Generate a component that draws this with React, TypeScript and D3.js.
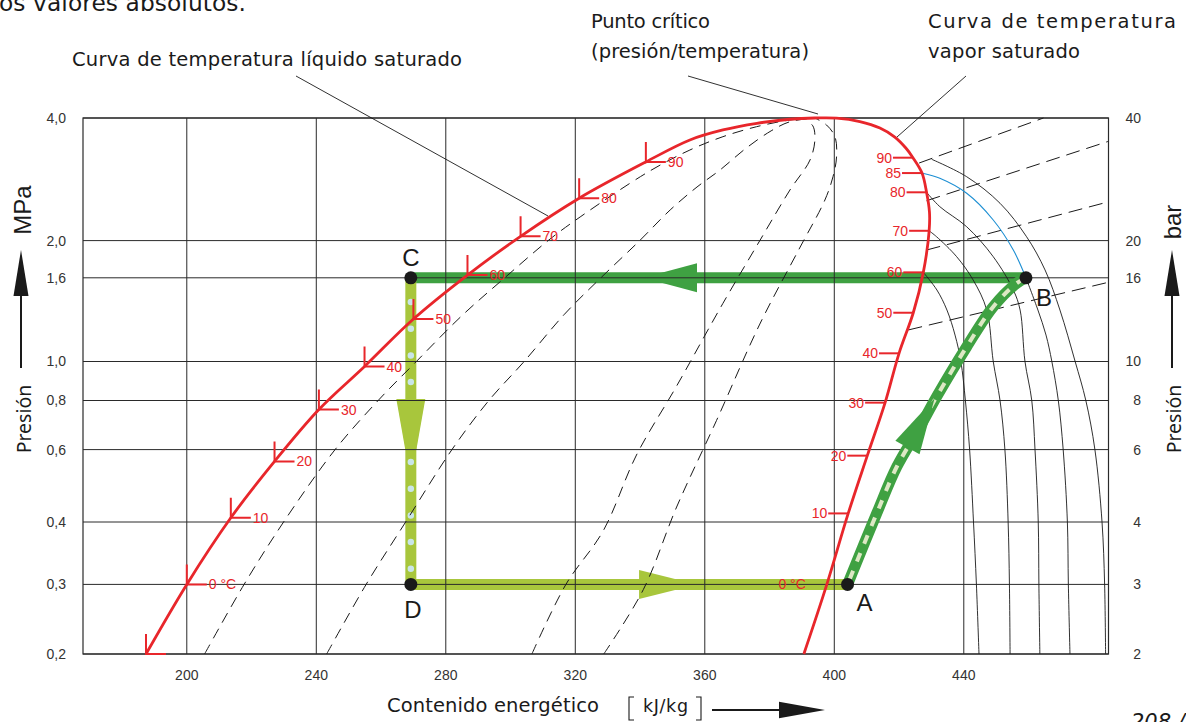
import React from "react";
import * as d3 from "d3";

// ---------------- axis ticks ----------------
const pressureTicks = [0.2, 0.3, 0.4, 0.6, 0.8, 1.0, 1.6, 2.0, 4.0]; // MPa
const mpaLabels = ["0,2", "0,3", "0,4", "0,6", "0,8", "1,0", "1,6", "2,0", "4,0"];
const barLabels = ["2", "3", "4", "6", "8", "10", "16", "20", "40"];
const enthalpyTicks = [200, 240, 280, 320, 360, 400, 440]; // kJ/kg
const enthalpyDomain = [167.94, 484.7];

// ---------------- saturation dome (h kJ/kg, p MPa) ----------------
// saturated liquid: bottom end, 0,10,...,90 °C, then up to the critical point
const liquidH = [187.4, 200.0, 213.6, 227.1, 240.8, 254.9, 270.0, 286.7, 303.1, 321.2, 341.8, 355.4, 365.6, 376.1, 386.3, 394.0];
const liquidP = [0.2, 0.3, 0.4096, 0.5617, 0.759, 0.972, 1.269, 1.626, 2.049, 2.542, 3.121, 3.533, 3.738, 3.882, 3.972, 4.0];
const liquidMarks = ["", "0 °C", "10", "20", "30", "40", "50", "60", "70", "80", "90"]; // first 11 liquid points

// saturated vapour: critical point downwards
const vapourH = [394.0, 400.7, 407.9, 414.1, 418.7, 422.1, 424.3, 427.1, 428.5, 429.4, 429.3, 427.5, 424.4, 420.0, 415.7, 410.2, 404.3, 397.7, 390.6];
const vapourP = [4.0, 3.997, 3.921, 3.78, 3.592, 3.376, 3.196, 2.93, 2.628, 2.35, 2.114, 1.653, 1.315, 1.047, 0.79, 0.58, 0.4197, 0.3, 0.2];
const vapourMarks = ["90", "85", "80", "70", "60", "50", "40", "30", "20", "10", "0 °C"];
const vapourMarkH = [424.3, 427.1, 428.5, 429.3, 427.5, 424.4, 420.0, 415.7, 410.2, 404.3, 397.7];
const vapourMarkP = [3.196, 2.93, 2.628, 2.114, 1.653, 1.315, 1.047, 0.79, 0.58, 0.4197, 0.3];

// ---------------- vapour-quality lines (dashed, two-phase region) ----------------
const q1H = [205.5, 217.7, 229.9, 245.8, 259.1, 270.9, 285.0, 298.2, 311.6, 321.5, 342.5, 355.4, 365.6, 376.0, 386.3, 394.0];
const q1P = [0.2, 0.3, 0.4, 0.6, 0.8, 1.0, 1.294, 1.6, 2.0, 2.286, 2.948, 3.338, 3.599, 3.808, 3.955, 4.0];
const q2H = [243.2, 255.4, 267.6, 281.9, 293.3, 304.2, 316.5, 327.9, 339.9, 349.3, 357.6, 364.7, 372.5, 380.5, 386.3, 394.0];
const q2P = [0.2, 0.3, 0.4, 0.6, 0.8, 1.0, 1.3, 1.6, 2.0, 2.378, 2.708, 2.981, 3.36, 3.72, 3.917, 4.0];
const q3H = [306.6, 317.1, 328.6, 338.9, 351.3, 365.6, 377.0, 386.3, 392.5, 394.0, 393.4, 391.3];
const q3P = [0.2, 0.3, 0.3838, 0.582, 0.869, 1.386, 2.0, 2.662, 3.154, 3.533, 3.823, 3.945];
const q4H = [328.8, 341.0, 351.3, 363.6, 377.0, 389.3, 397.1, 399.6, 400.7, 400.2, 397.6, 394.0];
const q4P = [0.2, 0.2909, 0.435, 0.711, 1.234, 1.913, 2.516, 2.87, 3.214, 3.599, 3.845, 4.0];

// ---------------- isotherms in the superheated region ----------------
const t60H = [427.5, 431.7, 434.8, 437.3, 439.1, 440.5, 441.8, 443.0, 443.9, 444.7];
const t60P = [1.653, 1.494, 1.335, 1.16, 1.0, 0.8, 0.6, 0.4, 0.3, 0.2];
const t70H = [429.3, 431.6, 437.8, 442.9, 447.1, 449.1, 451.2, 452.7, 453.7, 454.1, 454.3];
const t70P = [2.114, 2.044, 1.816, 1.58, 1.335, 1.0, 0.8, 0.6, 0.4, 0.3, 0.2];
const t80H = [428.5, 432.6, 440.9, 449.1, 455.3, 457.4, 458.9, 461.0, 462.0, 463.0, 463.2, 463.5];
const t80P = [2.628, 2.423, 2.163, 1.816, 1.494, 1.335, 1.0, 0.8, 0.6, 0.4, 0.3, 0.2];
const t85UpperH = [427.3, 432.6, 440.9, 449.1, 455.3, 459.2];
const t85UpperP = [2.926, 2.844, 2.613, 2.247, 1.89, 1.6];
const t85LowerH = [459.2, 462.9, 465.4, 467.2, 469.2, 470.7, 472.0, 472.3, 472.8];
const t85LowerP = [1.6, 1.335, 1.16, 1.0, 0.8, 0.6, 0.4, 0.3, 0.2];
const t90H = [430.1, 440.9, 451.2, 459.4, 465.1, 469.7, 474.4, 477.7, 480.5, 482.7, 483.5, 483.8];
const t90P = [3.167, 2.87, 2.47, 2.044, 1.677, 1.335, 1.0, 0.8, 0.6, 0.4, 0.3, 0.2];

// ---------------- dashed lines in the vapour region (start, end) ----------------
const vLineH = [[426.2, 464.6], [428.5, 484.5], [428.5, 484.5], [422.9, 484.5]];
const vLineP = [[3.101, 4.0], [2.506, 3.502], [1.89, 2.488], [1.194, 1.559]];

// ---------------- refrigeration cycle ----------------
const cycleNames = ["A", "B", "C", "D"];
const cycleH = [404.1, 459.2, 269.2, 269.2];
const cycleP = [0.3, 1.6, 1.6, 0.3];
const compressionH = [404.1, 413.1, 419.3, 426.5, 431.6, 440.9, 449.1, 456.3, 459.2];
const compressionP = [0.3, 0.4197, 0.545, 0.686, 0.8175, 1.0867, 1.3605, 1.551, 1.6];
// arrow heads: [tip, base] in (h, p)
const condArrow = [[340.9, 1.6], [357.6, 1.6]];
const evapArrow = [[357.6, 0.3], [339.7, 0.3]];
const expArrow = [[269.2, 0.599], [269.2, 0.807]];
const compArrow = [[431.0, 0.81], [422.6, 0.6074]];

const RED = "#e8262b";
const GRID = "#2a2a2a";
const DARKGREEN = "#3fa142";
const LIGHTGREEN = "#a8c63c";
const ANN = "'DejaVu Sans', Verdana, sans-serif";
const AX = "'Liberation Sans', Arial, sans-serif";

type P2 = [number, number];

export default function App() {
  const x = d3.scaleLinear().domain(enthalpyDomain).range([83, 1108.5]);
  const y = d3.scaleLog().domain(pressureTicks).range([654, 584.4, 522, 449.6, 400.5, 361.5, 277.8, 240.6, 118]);
  const pts = (hs: number[], ps: number[]): P2[] => hs.map((h, i) => [h, ps[i]] as P2);
  const smooth = d3.line<P2>().x((d) => x(d[0])).y((d) => y(d[1])).curve(d3.curveCatmullRom.alpha(0.5));
  const straight = d3.line<P2>().x((d) => x(d[0])).y((d) => y(d[1]));

  const px = (d: number[]): P2 => [x(d[0]), y(d[1])];
  const tri = (tipD: number[], baseD: number[], half: number, tipHalf = 0) => {
    const t = px(tipD), b = px(baseD);
    const dx = t[0] - b[0], dy = t[1] - b[1];
    const L = Math.hypot(dx, dy);
    const nx = -dy / L, ny = dx / L;
    return `M${t[0] + nx * tipHalf},${t[1] + ny * tipHalf}L${b[0] + nx * half},${b[1] + ny * half}L${b[0] - nx * half},${b[1] - ny * half}L${t[0] - nx * tipHalf},${t[1] - ny * tipHalf}Z`;
  };

  const [hA, hB, hC, hD] = cycleH;
  const [pA, pB, pC, pD] = cycleP;
  const x0 = 83, x1 = 1108.5, yTop = 118, yBot = 654;

  const dome = pts(liquidH, liquidP).concat(pts(vapourH, vapourP).slice(1));
  const qLines = [pts(q1H, q1P), pts(q2H, q2P), pts(q3H, q3P), pts(q4H, q4P)];
  const isotherms = [pts(t60H, t60P), pts(t70H, t70P), pts(t80H, t80P), pts(t85LowerH, t85LowerP), pts(t90H, t90P)];

  const cdLen = y(pD) - y(pC);
  const ann = { fontFamily: ANN, fill: "#1a1a1a", lengthAdjust: "spacing" } as const;

  return (
    <svg width={1186} height={722} style={{ position: "absolute", left: 0, top: 0, background: "#fff" }}>
      <rect x={0} y={0} width={1186} height={722} fill="#fff" />
      {/* top cut text */}
      <text x={-1} y={11} {...ann} fontSize={23.3} textLength={247}>os valores absolutos.</text>

      {/* cycle bands (under grid) */}
      <line x1={x(hC)} x2={x(hB)} y1={y(pC)} y2={y(pB)} stroke={DARKGREEN} strokeWidth={11} />
      <line x1={x(hD)} x2={x(hA)} y1={y(pD)} y2={y(pA)} stroke={LIGHTGREEN} strokeWidth={11} />
      <line x1={x(hC)} x2={x(hD)} y1={y(pC)} y2={y(pD)} stroke={LIGHTGREEN} strokeWidth={11} />
      <line x1={x(hC)} x2={x(hD)} y1={y(pC)} y2={y(pD)} stroke="#c9e5e8" strokeWidth={6.5} strokeLinecap="round"
        strokeDasharray={`0 ${cdLen / 11.5}`} strokeDashoffset={cdLen / 11.5 - 24.3} />
      <path d={tri(condArrow[0], condArrow[1], 14.5)} fill={DARKGREEN} />
      <path d={tri(evapArrow[0], evapArrow[1], 14.5)} fill={LIGHTGREEN} />
      <path d={tri(expArrow[0], expArrow[1], 14.5, 5.5)} fill={LIGHTGREEN} />

      {/* grid */}
      {enthalpyTicks.map((h) => (
        <line key={"v" + h} x1={x(h)} x2={x(h)} y1={yTop} y2={yBot} stroke={GRID} strokeWidth={1} />
      ))}
      {pressureTicks.map((p) => (
        <line key={"h" + p} x1={x0} x2={x1} y1={y(p)} y2={y(p)} stroke={GRID} strokeWidth={1} />
      ))}
      <rect x={x0} y={yTop} width={x1 - x0} height={yBot - yTop} fill="none" stroke={GRID} strokeWidth={1.2} />

      {/* tick labels */}
      {pressureTicks.map((p, i) => (
        <text key={"lm" + p} x={66} y={y(p)} dy="0.35em" textAnchor="end" fontFamily={AX} fontSize={14} fill="#333">{mpaLabels[i]}</text>
      ))}
      {pressureTicks.map((p, i) => (
        <text key={"lb" + p} x={1141} y={y(p)} dy="0.35em" textAnchor="end" fontFamily={AX} fontSize={14} fill="#333">{barLabels[i]}</text>
      ))}
      {enthalpyTicks.map((h) => (
        <text key={"lx" + h} x={x(h)} y={680} textAnchor="middle" fontFamily={AX} fontSize={14} fill="#333">{h}</text>
      ))}

      {/* quality lines */}
      {qLines.map((q, i) => (
        <path key={"q" + i} d={smooth(q) || ""} fill="none" stroke="#1a1a1a" strokeWidth={1} strokeDasharray="11 7" />
      ))}
      {/* vapour-region dashed lines */}
      {vLineH.map((hs, i) => (
        <path key={"vl" + i} d={straight(pts(hs, vLineP[i])) || ""} fill="none" stroke="#1a1a1a" strokeWidth={1} strokeDasharray="14 7" />
      ))}
      {/* isotherms */}
      {isotherms.map((t, i) => (
        <path key={"t" + i} d={smooth(t) || ""} fill="none" stroke="#1a1a1a" strokeWidth={0.9} />
      ))}
      <path d={smooth(pts(t85UpperH, t85UpperP)) || ""} fill="none" stroke="#1d8fd3" strokeWidth={1.1} />

      {/* compression */}
      <path d={smooth(pts(compressionH, compressionP)) || ""} fill="none" stroke={DARKGREEN} strokeWidth={11} />
      <path d={smooth(pts(compressionH, compressionP)) || ""} fill="none" stroke="#dde8c4" strokeWidth={4} strokeDasharray="9 10" strokeDashoffset={-6} />
      <path d={tri(compArrow[0], compArrow[1], 13.8)} fill={DARKGREEN} />

      {/* saturation dome */}
      <path d={smooth(dome) || ""} fill="none" stroke={RED} strokeWidth={2.8} />
      {liquidMarks.map((m, i) => {
        const cx = x(liquidH[i]), cy = y(liquidP[i]);
        return (
          <g key={"lk" + i}>
            <path d={`M${cx},${cy - 20}L${cx},${cy}L${cx + 20},${cy}`} fill="none" stroke={RED} strokeWidth={2} />
            {m && <text x={cx + 22} y={cy} dy="0.36em" fontFamily={AX} fontSize={14} fill={RED}>{m}</text>}
          </g>
        );
      })}
      {vapourMarks.map((m, i) => {
        const cx = x(vapourMarkH[i]), cy = y(vapourMarkP[i]);
        return (
          <g key={"vk" + i}>
            {i < vapourMarks.length - 1 && <line x1={cx - 20} x2={cx} y1={cy} y2={cy} stroke={RED} strokeWidth={2} />}
            <text x={cx - 21} y={cy} dy="0.36em" textAnchor="end" fontFamily={AX} fontSize={14} fill={RED}>{m}</text>
          </g>
        );
      })}

      {/* cycle points */}
      {cycleNames.map((n, i) => (
        <circle key={"c" + n} cx={x(cycleH[i])} cy={y(cycleP[i])} r={6.5} fill="#1a1a1a" />
      ))}
      <text x={x(hC)} y={y(pC) - 12} textAnchor="middle" fontFamily={AX} fontSize={24} fill="#1a1a1a">C</text>
      <text x={x(hD) + 2} y={y(pD) + 34} textAnchor="middle" fontFamily={AX} fontSize={24} fill="#1a1a1a">D</text>
      <text x={x(hA) + 17} y={y(pA) + 27} textAnchor="middle" fontFamily={AX} fontSize={24} fill="#1a1a1a">A</text>
      <text x={x(hB) + 18} y={y(pB) + 28} textAnchor="middle" fontFamily={AX} fontSize={24} fill="#1a1a1a">B</text>

      {/* annotations */}
      <text x={72} y={66} {...ann} fontSize={19.5} textLength={390}>Curva de temperatura líquido saturado</text>
      <line x1={296} y1={76} x2={548} y2={216} stroke="#1a1a1a" strokeWidth={0.9} />
      <text x={591} y={28} {...ann} fontSize={19.5} textLength={119}>Punto crítico</text>
      <text x={591} y={58} {...ann} fontSize={19.5} textLength={218}>(presión/temperatura)</text>
      <line x1={688} y1={76} x2={818} y2={114} stroke="#1a1a1a" strokeWidth={0.9} />
      <text x={928} y={28} {...ann} fontSize={19.5} textLength={248}>Curva de temperatura</text>
      <text x={928} y={58} {...ann} fontSize={19.5} textLength={152}>vapor saturado</text>
      <line x1={966} y1={76} x2={897} y2={137} stroke="#1a1a1a" strokeWidth={0.9} />

      {/* left axis title */}
      <text transform="translate(31,210) rotate(-90)" textAnchor="middle" fontFamily={AX} fontSize={24} fill="#1a1a1a">MPa</text>
      <text transform="translate(31,419) rotate(-90)" textAnchor="middle" fontFamily="'Noto Sans', sans-serif" fontSize={19.5} fill="#1a1a1a">Presión</text>
      <line x1={21} x2={21} y1={368} y2={292} stroke="#1a1a1a" strokeWidth={2} />
      <path d="M21,250L28.5,296L13.5,296Z" fill="#1a1a1a" />
      {/* right axis title */}
      <text transform="translate(1181,222) rotate(-90)" textAnchor="middle" fontFamily={AX} fontSize={24} fill="#1a1a1a">bar</text>
      <text transform="translate(1181,419) rotate(-90)" textAnchor="middle" fontFamily="'Noto Sans', sans-serif" fontSize={19.5} fill="#1a1a1a">Presión</text>
      <line x1={1172} x2={1172} y1={368} y2={292} stroke="#1a1a1a" strokeWidth={2} />
      <path d="M1172,250L1179.5,296L1164.5,296Z" fill="#1a1a1a" />

      {/* bottom axis title */}
      <text x={387} y={712} {...ann} fontSize={19.5} textLength={212}>Contenido energético</text>
      <path d="M634,697L629,697L629,720L634,720" fill="none" stroke="#1a1a1a" strokeWidth={1.1} />
      <text x={643} y={712} {...ann} fontSize={17.5} textLength={45}>kJ/kg</text>
      <path d="M696,697L701,697L701,720L696,720" fill="none" stroke="#1a1a1a" strokeWidth={1.1} />
      <line x1={712} x2={782} y1={710} y2={710} stroke="#1a1a1a" strokeWidth={2} />
      <path d="M825,710L779,701.7L779,718.3Z" fill="#1a1a1a" />
      <text x={1131} y={729} fontFamily={ANN} fontStyle="italic" fontSize={21} fill="#1a1a1a">208 /</text>
    </svg>
  );
}
